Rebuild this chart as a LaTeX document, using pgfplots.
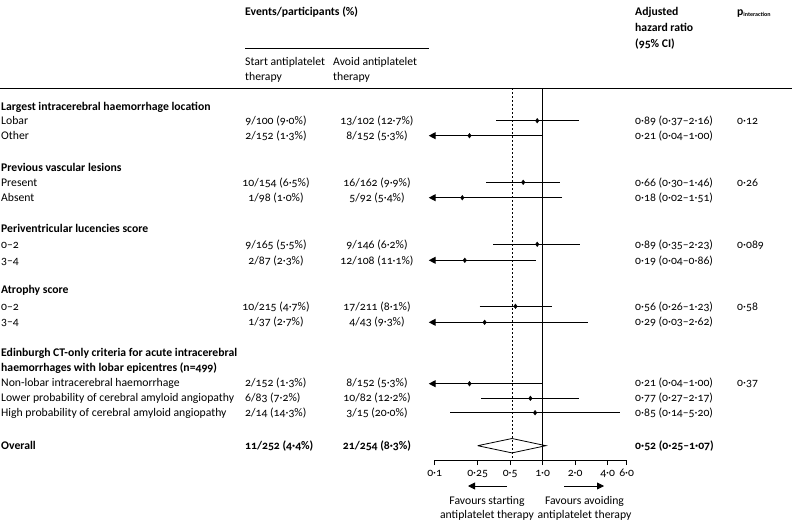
\documentclass[border=0pt]{standalone}
\usepackage{pgfplots}
\pgfplotsset{compat=1.18}
\usepackage{fontspec}
\setmainfont{Carlito}[Numbers=OldStyle]
\usetikzlibrary{arrows.meta}
\newcommand\fs{\fontsize{11.7}{13}\selectfont}
\newcommand\Lt[3]{\node[anchor=west,inner sep=0pt,text height=9.5pt,text depth=2pt] at (#1,-#2) {#3};}
\newcommand\Ct[3]{\node[anchor=center,inner sep=0pt,text height=9.5pt,text depth=2pt] at (#1,-#2) {#3};}
\begin{document}
\begin{tikzpicture}[x=1pt,y=1pt,font=\fs]
\useasboundingbox (0,0) rectangle (792,-522);
% headers
\Lt{245}{12}{\textbf{Events/participants (\%)}}
\draw[line width=0.7pt] (245,-48) -- (429,-48);
\Lt{245}{62}{Start antiplatelet}
\Lt{245}{77}{therapy}
\Lt{333}{62}{Avoid antiplatelet}
\Lt{333}{77}{therapy}
\Lt{635}{12}{\textbf{Adjusted}}
\Lt{635}{28}{\textbf{hazard ratio}}
\Lt{635}{44}{\textbf{(95\% CI)}}
\Lt{737}{12}{\textbf{p}\raisebox{-1pt}{\fontsize{6}{7}\selectfont\bfseries interaction}}
\draw[line width=1pt] (0,-88) -- (792,-88);
% rows
\Lt{1}{107}{\textbf{Largest intracerebral haemorrhage location}}
\Lt{1}{121}{Lobar}\Ct{276}{121}{9/100 (9·0\%)}\Ct{377}{121}{13/102 (12·7\%)}\Lt{635}{121}{0·89 (0·37–2·16)}\Lt{737}{121}{0·12}
\Lt{1}{136}{Other}\Ct{276}{136}{2/152 (1·3\%)}\Ct{377}{136}{8/152 (5·3\%)}\Lt{635}{136}{0·21 (0·04–1·00)}
\Lt{1}{168}{\textbf{Previous vascular lesions}}
\Lt{1}{182.5}{Present}\Ct{276}{182.5}{10/154 (6·5\%)}\Ct{377}{182.5}{16/162 (9·9\%)}\Lt{635}{182.5}{0·66 (0·30–1·46)}\Lt{737}{182.5}{0·26}
\Lt{1}{198}{Absent}\Ct{276}{198}{1/98 (1·0\%)}\Ct{377}{198}{5/92 (5·4\%)}\Lt{635}{198}{0·18 (0·02–1·51)}
\Lt{1}{229}{\textbf{Periventricular lucencies score}}
\Lt{1}{244.5}{0–2}\Ct{276}{244.5}{9/165 (5·5\%)}\Ct{377}{244.5}{9/146 (6·2\%)}\Lt{635}{244.5}{0·89 (0·35–2·23)}\Lt{737}{244.5}{0·089}
\Lt{1}{260.5}{3–4}\Ct{276}{260.5}{2/87 (2·3\%)}\Ct{377}{260.5}{12/108 (11·1\%)}\Lt{635}{260.5}{0·19 (0·04–0·86)}
\Lt{1}{290}{\textbf{Atrophy score}}
\Lt{1}{306.3}{0–2}\Ct{276}{306.3}{10/215 (4·7\%)}\Ct{377}{306.3}{17/211 (8·1\%)}\Lt{635}{306.3}{0·56 (0·26–1·23)}\Lt{737}{306.3}{0·58}
\Lt{1}{322}{3–4}\Ct{276}{322}{1/37 (2·7\%)}\Ct{377}{322}{4/43 (9·3\%)}\Lt{635}{322}{0·29 (0·03–2·62)}
\Lt{1}{352.5}{\textbf{Edinburgh CT-only criteria for acute intracerebral}}
\Lt{1}{367.5}{\textbf{haemorrhages with lobar epicentres (n=499)}}
\Lt{1}{383}{Non-lobar intracerebral haemorrhage}\Lt{245}{383}{2/152 (1·3\%)}\Ct{377}{383}{8/152 (5·3\%)}\Lt{635}{383}{0·21 (0·04–1·00)}\Lt{737}{383}{0·37}
\Lt{1}{398}{Lower probability of cerebral amyloid angiopathy}\Lt{245}{398}{6/83 (7·2\%)}\Ct{377}{398}{10/82 (12·2\%)}\Lt{635}{398}{0·77 (0·27–2·17)}
\Lt{1}{412.7}{High probability of cerebral amyloid angiopathy}\Lt{245}{412.7}{2/14 (14·3\%)}\Ct{377}{412.7}{3/15 (20·0\%)}\Lt{635}{412.7}{0·85 (0·14–5·20)}
\Lt{1}{445.5}{\textbf{Overall}}\Lt{245}{445.5}{\textbf{11/252 (4·4\%)}}\Ct{377}{445.5}{\textbf{21/254 (8·3\%)}}\Lt{635}{445.5}{\textbf{0·52 (0·25–1·07)}}
% bottom annotations
\draw[line width=0.8pt,-{Triangle[length=7pt,width=7pt]}] (507,-486) -- (468,-486);
\draw[line width=0.8pt,-{Triangle[length=7pt,width=7pt]}] (564,-486) -- (604,-486);
\Ct{487}{500.7}{Favours starting}
\Ct{487}{515}{antiplatelet therapy}
\Ct{584.5}{500.7}{Favours avoiding}
\Ct{584.5}{515}{antiplatelet therapy}
\begin{axis}[
  at={(434.7pt,-460pt)}, anchor=south west,
  scale only axis, width=192pt, height=372pt,
  xmode=log, xmin=0.1, xmax=6, ymin=-460, ymax=-88,
  axis x line*=bottom, axis y line=none,
  axis line style={-, line width=0.8pt},
  xtick={0.1,0.25,0.5,1,2,4,6},
  xticklabels={0·1,0·25,0·5,1·0,2·0,4·0,6·0},
  xminorticks=false,
  tick align=outside, major tick length=5pt,
  tick style={line width=0.8pt, black},
  xticklabel style={font=\fs, anchor=north, inner sep=1pt, text height=7.5pt, text depth=2.5pt, yshift=-3pt},
  clip=false,
]
% reference lines
\addplot[black, line width=0.8pt] coordinates {(1,-88) (1,-460)};
\addplot[black, line width=0.8pt, dash pattern=on 2pt off 2pt] coordinates {(0.52,-88) (0.52,-460)};
% CIs within range
\addplot[black, line width=0.8pt] coordinates {(0.37,-120.7) (2.16,-120.7)};
\addplot[black, line width=0.8pt] coordinates {(0.30,-182.3) (1.46,-182.3)};
\addplot[black, line width=0.8pt] coordinates {(0.35,-244.3) (2.23,-244.3)};
\addplot[black, line width=0.8pt] coordinates {(0.26,-306.3) (1.23,-306.3)};
\addplot[black, line width=0.8pt] coordinates {(0.27,-398.3) (2.17,-398.3)};
\addplot[black, line width=0.8pt] coordinates {(0.14,-412.7) (5.20,-412.7)};
% CIs truncated at left
\addplot[black, line width=1.1pt, -{Triangle[length=7pt,width=7pt]}] coordinates {(1.00,-135.7) (0.088,-135.7)};
\addplot[black, line width=1.1pt, -{Triangle[length=7pt,width=7pt]}] coordinates {(1.51,-197.7) (0.088,-197.7)};
\addplot[black, line width=1.1pt, -{Triangle[length=7pt,width=7pt]}] coordinates {(0.86,-260.3) (0.088,-260.3)};
\addplot[black, line width=1.1pt, -{Triangle[length=7pt,width=7pt]}] coordinates {(2.62,-322.3) (0.088,-322.3)};
\addplot[black, line width=1.1pt, -{Triangle[length=7pt,width=7pt]}] coordinates {(1.00,-383.7) (0.088,-383.7)};
% point estimates
\addplot[black, only marks, mark=diamond*, mark size=2.3pt] coordinates {
(0.89,-120.7) (0.21,-135.7) (0.66,-182.3) (0.18,-197.7) (0.89,-244.3) (0.19,-260.3)
(0.56,-306.3) (0.29,-322.3) (0.21,-383.7) (0.77,-398.3) (0.85,-412.7)};
% overall diamond
\addplot[black, line width=0.8pt] coordinates {(0.25,-445.7) (0.52,-438.5) (1.07,-445.7) (0.52,-452.9) (0.25,-445.7)};
\end{axis}
\end{tikzpicture}
\end{document}
